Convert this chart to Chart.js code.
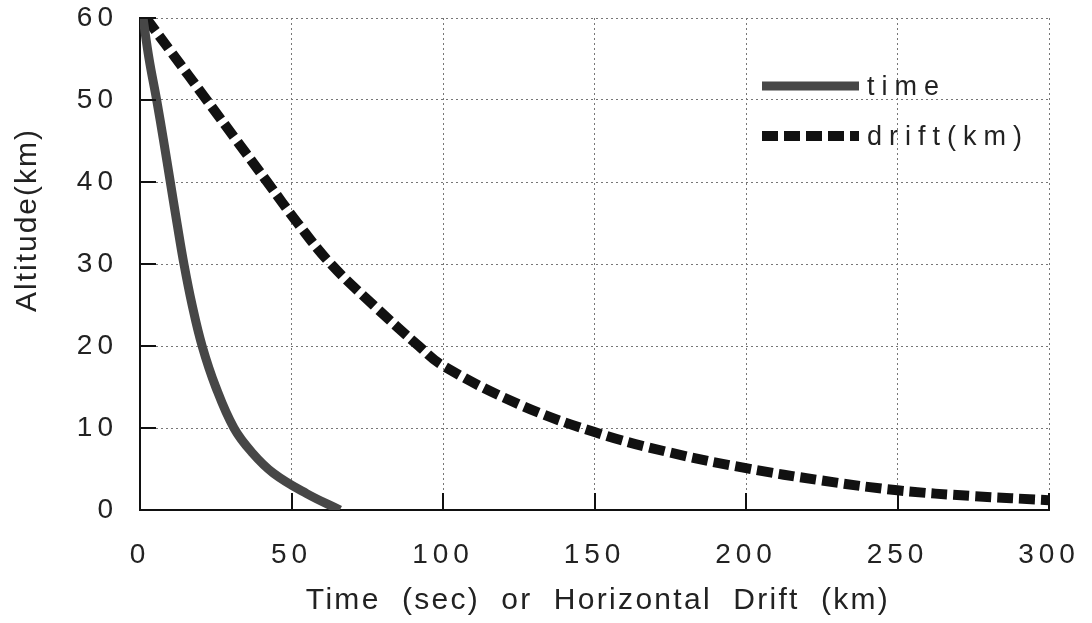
<!DOCTYPE html>
<html>
<head>
<meta charset="utf-8">
<script src="https://cdn.jsdelivr.net/npm/chart.js@4/dist/chart.umd.min.js"></script>
<style>
	html, body { margin: 0; padding: 0; background: #fff; }
	#wrap { width: 1092px; height: 623px; }
</style>
</head>
<body>
<div id="wrap"><canvas id="altChart" width="1092" height="623"></canvas></div>
<script>
// time curve: seconds vs altitude
const timeSec = [1, 3, 5.5, 7.8, 10, 12.2, 14.5, 17.2, 20.5, 25, 31, 37, 44, 55, 66];
const timeAlt = [60, 55, 50, 45, 40, 35, 30, 25, 20, 15, 10, 7, 4.5, 2, 0];

// drift curve: horizontal km vs altitude
const driftKm = [2, 10, 22, 32, 42, 52, 63, 77, 92, 100, 125, 150, 175, 200, 225, 250, 275, 300];
const driftAlt = [60, 56, 50, 45, 40, 35, 30, 25, 20, 17.6, 12.9, 9.5, 7, 5.1, 3.6, 2.4, 1.7, 1.2];

const seriesLabels = ['time', 'drift(km)'];
const xTitle = 'Time  (sec)  or  Horizontal  Drift  (km)';
const yTitle = 'Altitude(km)';

const FONT = '"Liberation Sans", Arial, sans-serif';
const INK = '#222';

function zip(xs, ys) {
	return xs.map((x, i) => ({ x, y: ys[i] }));
}

// letter spacing for all canvas text, the scan has wide tracking
const spacingPlugin = {
	id: 'spacing',
	beforeLayout(chart) { chart.ctx.letterSpacing = '5px'; },
	beforeDraw(chart) { chart.ctx.letterSpacing = '5px'; },
};

// inward tick marks on the left and bottom axes
const innerTicks = {
	id: 'innerTicks',
	afterDatasetsDraw(chart) {
		const { ctx, chartArea: a, scales } = chart;
		ctx.save();
		ctx.strokeStyle = '#111';
		ctx.lineWidth = 2;
		ctx.setLineDash([]);
		ctx.beginPath();
		scales.y.ticks.forEach((t, i) => {
			if (t.value === 0) return;
			const py = Math.round(scales.y.getPixelForTick(i));
			ctx.moveTo(a.left, py);
			ctx.lineTo(a.left + 16, py);
		});
		scales.x.ticks.forEach((t, i) => {
			if (t.value === 0) return;
			const px = Math.round(scales.x.getPixelForTick(i));
			ctx.moveTo(px, a.bottom);
			ctx.lineTo(px, a.bottom - 17);
		});
		ctx.stroke();
		ctx.restore();
	},
};

// legend sits inside the plot, upper right
const insideLegend = {
	id: 'insideLegend',
	afterDraw(chart) {
		const { ctx } = chart;
		const x0 = 762, x1 = 859;
		const rows = [86, 136];
		ctx.save();
		chart.data.datasets.forEach((ds, i) => {
			const y = rows[i];
			ctx.strokeStyle = ds.borderColor;
			ctx.lineWidth = ds.borderWidth;
			ctx.setLineDash(ds.borderDash || []);
			ctx.beginPath();
			ctx.moveTo(x0, y);
			ctx.lineTo(x1, y);
			ctx.stroke();
			ctx.setLineDash([]);
			ctx.fillStyle = INK;
			ctx.font = `27px ${FONT}`;
			ctx.letterSpacing = '7px';
			ctx.textAlign = 'left';
			ctx.textBaseline = 'middle';
			ctx.fillText(ds.label, x1 + 8, y + 2);
		});
		ctx.restore();
	},
};

// axis titles drawn by hand to match the scan's placement
const titles = {
	id: 'titles',
	afterDraw(chart) {
		const { ctx } = chart;
		ctx.save();
		ctx.fillStyle = INK;
		ctx.font = `30px ${FONT}`;
		ctx.textBaseline = 'alphabetic';
		ctx.textAlign = 'center';
		ctx.letterSpacing = '2.3px';
		ctx.fillText(xTitle, 598, 609);
		ctx.letterSpacing = '2px';
		ctx.translate(36, 220);
		ctx.rotate(-Math.PI / 2);
		ctx.fillText(yTitle, 0, 0);
		ctx.restore();
	},
};

const ctx = document.getElementById('altChart').getContext('2d');
new Chart(ctx, {
	type: 'line',
	data: {
		datasets: [
			{
				label: seriesLabels[0],
				data: zip(timeSec, timeAlt),
				borderColor: '#474747',
				borderWidth: 9,
				tension: 0.4,
				pointRadius: 0,
				fill: false,
				order: 1,
			},
			{
				label: seriesLabels[1],
				data: zip(driftKm, driftAlt),
				borderColor: '#111',
				borderWidth: 10,
				borderDash: [16, 6],
				borderCapStyle: 'butt',
				tension: 0.4,
				pointRadius: 0,
				fill: false,
				order: 2,
			},
		],
	},
	options: {
		responsive: false,
		animation: false,
		events: [],
		layout: { padding: { top: 18, right: 43, left: 0, bottom: 0 } },
		plugins: {
			legend: { display: false },
			tooltip: { enabled: false },
		},
		scales: {
			x: {
				type: 'linear',
				min: 0,
				max: 300,
				ticks: {
					stepSize: 50,
					padding: 28,
					color: INK,
					font: { family: FONT, size: 28 },
					maxRotation: 0,
				},
				grid: {
					drawTicks: false,
					color: '#777',
					lineWidth: 1,
				},
				border: { color: '#111', width: 2, dash: [2, 3] },
				afterFit(scale) {
					scale.height = 113;
					scale.paddingLeft = 0;
					scale.paddingRight = 0;
				},
			},
			y: {
				min: 0,
				max: 60,
				ticks: {
					stepSize: 10,
					padding: 22,
					color: INK,
					font: { family: FONT, size: 28 },
				},
				grid: {
					drawTicks: false,
					color: '#777',
					lineWidth: 1,
				},
				border: { color: '#111', width: 2, dash: [2, 3] },
				afterFit(scale) {
					scale.width = 140;
					scale.paddingTop = 0;
					scale.paddingBottom = 0;
				},
			},
		},
	},
	plugins: [spacingPlugin, innerTicks, insideLegend, titles],
});
</script>
</body>
</html>
